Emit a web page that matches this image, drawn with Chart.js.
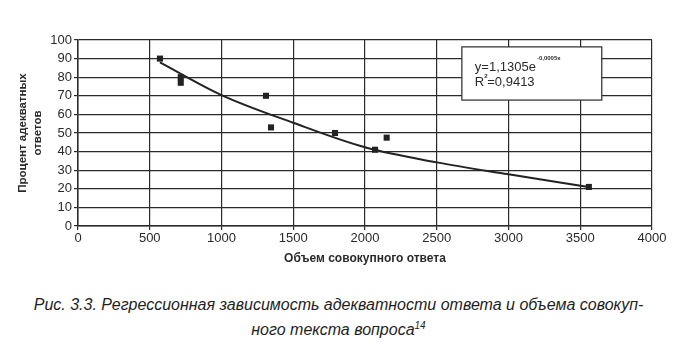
<!DOCTYPE html>
<html>
<head>
<meta charset="utf-8">
<script src="https://cdn.jsdelivr.net/npm/chart.js@4"></script>
<style>
  body { margin: 0; background: #fff; }
  #wrap { position: relative; width: 677px; height: 351px; }
  #chart { position: absolute; left: 0; top: 0; }
  #caption {
    position: absolute; left: 0; top: 292px; width: 677px;
    text-align: center; font-family: "Liberation Sans Narrow", "Liberation Sans", Arial, sans-serif;
    font-stretch: condensed; font-style: italic; font-size: 16px; line-height: 25px; color: #1e1e1e;
  }
  #caption sup { font-size: 10px; vertical-align: 6px; line-height: 0; }
</style>
</head>
<body>
<div id="wrap">
  <canvas id="chart" width="677" height="270"></canvas>
  <div id="caption">Рис. 3.3. Регрессионная зависимость адекватности ответа и объема совокуп-<br>ного текста вопроса<sup>14</sup></div>
</div>
<script>
// ── Данные ──────────────────────────────────────────────────
const obemX   = [571, 716, 716, 1310, 1345, 1791, 2070, 2151, 3560];
const procY   = [90, 80, 77, 70, 53, 50, 41, 47.5, 21];
const trendX  = [571, 1000, 1500, 2000, 2500, 3000, 3570];
const trendY  = [88, 70.4, 55.5, 42.3, 34.2, 27.8, 20.8];
const xTicks  = [0, 500, 1000, 1500, 2000, 2500, 3000, 3500, 4000];
const yTicks  = [0, 10, 20, 30, 40, 50, 60, 70, 80, 90, 100];
const formula = { base: 'y=1,1305e', exp: '-0,0005x', r2: 'R', r2val: '=0,9413' };

const INK = '#2a2a2a';
const tickFont = { family: 'Liberation Sans, Arial, sans-serif', size: 13 };

// ── Блок с уравнением тренда ────────────────────────────────
const formulaBox = {
  id: 'formulaBox',
  afterDatasetsDraw(chart) {
    const { ctx, scales: { x, y } } = chart;
    const l = x.getPixelForValue(2675), r = x.getPixelForValue(3650);
    const t = y.getPixelForValue(96.3), b = y.getPixelForValue(67.7);
    ctx.save();
    ctx.fillStyle = '#fff';
    ctx.fillRect(l, t, r - l, b - t);
    ctx.strokeStyle = INK; ctx.lineWidth = 1.2;
    ctx.strokeRect(l, t, r - l, b - t);
    ctx.fillStyle = INK;
    ctx.textBaseline = 'alphabetic';
    ctx.font = '13px Liberation Sans, Arial, sans-serif';
    const tx = l + 13;
    ctx.fillText(formula.base, tx, t + 24);
    const w = ctx.measureText(formula.base).width;
    ctx.font = 'bold 6px Liberation Sans, Arial, sans-serif';
    ctx.fillText(formula.exp, tx + w + 1, t + 13);
    ctx.font = '13px Liberation Sans, Arial, sans-serif';
    ctx.fillText(formula.r2, tx, t + 39);
    const w2 = ctx.measureText(formula.r2).width;
    ctx.font = 'bold 6px Liberation Sans, Arial, sans-serif';
    ctx.fillText('2', tx + w2, t + 31);
    ctx.font = '13px Liberation Sans, Arial, sans-serif';
    ctx.fillText(formula.r2val, tx + w2 + 3, t + 39);
    ctx.restore();
  }
};

new Chart(document.getElementById('chart'), {
  type: 'scatter',
  data: {
    datasets: [
      {
        label: 'Данные',
        data: obemX.map((v, i) => ({ x: v, y: procY[i] })),
        pointStyle: 'rect', pointRadius: 4.3, pointHoverRadius: 4.3,
        backgroundColor: '#222', borderColor: '#222', borderWidth: 0,
        order: 1,
      },
      {
        label: 'Тренд',
        type: 'line',
        data: trendX.map((v, i) => ({ x: v, y: trendY[i] })),
        borderColor: '#222', borderWidth: 2, pointRadius: 0,
        cubicInterpolationMode: 'monotone', fill: false,
        order: 2,
      },
    ],
  },
  options: {
    responsive: false, animation: false,
    layout: { padding: { top: 40, right: 25, left: 11, bottom: 0 } },
    plugins: { legend: { display: false }, tooltip: { enabled: false } },
    scales: {
      x: {
        type: 'linear', min: 0, max: 4000,
        afterBuildTicks: s => { s.ticks = xTicks.map(v => ({ value: v })); },
        afterFit: s => { s.height = 44; },
        ticks: { font: tickFont, color: INK, padding: 1, maxRotation: 0, callback: v => String(v) },
        grid: { color: INK, lineWidth: 1.2, tickLength: 4, drawTicks: true },
        border: { color: INK, width: 1.5 },
        title: {
          display: true, text: 'Объем совокупного ответа', color: INK,
          font: { family: 'Liberation Sans, Arial, sans-serif', size: 12, weight: 'bold' },
          padding: { top: 0 },
        },
      },
      y: {
        type: 'linear', min: 0, max: 100,
        afterBuildTicks: s => { s.ticks = yTicks.map(v => ({ value: v })); },
        afterFit: s => { s.width = 67; },
        ticks: { font: tickFont, color: INK, padding: 2, callback: v => String(v) },
        grid: { color: INK, lineWidth: 1.2, tickLength: 4 },
        border: { color: INK, width: 1.5 },
        title: {
          display: true, text: ['Процент адекватных', 'ответов'], color: INK,
          font: { family: 'Liberation Sans, Arial, sans-serif', size: 11.5, weight: 'bold', lineHeight: 1.35 },
          padding: { bottom: 0 },
        },
      },
    },
  },
  plugins: [formulaBox],
});
</script>
</body>
</html>
